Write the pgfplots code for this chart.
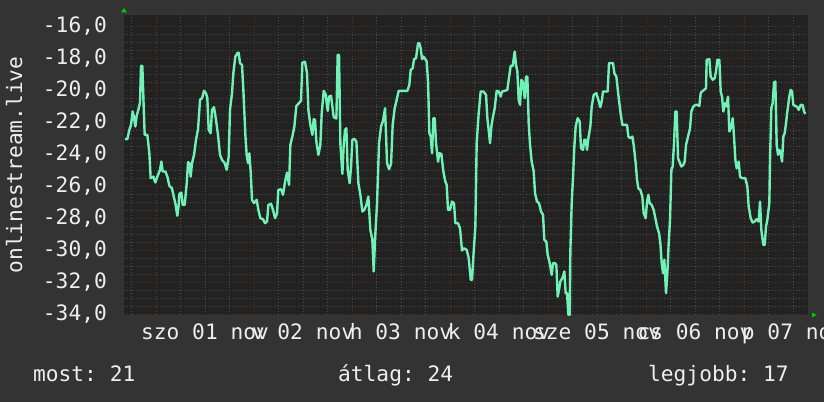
\documentclass[border=0pt]{standalone}
\usepackage{fontspec}
\setmainfont{DejaVu Sans Mono}
\usepackage{pgfplots}
\pgfplotsset{compat=1.18}
\definecolor{outerbg}{RGB}{51,51,51}
\definecolor{plotbg}{RGB}{34,34,34}
\definecolor{gridminor}{RGB}{78,78,78}
\definecolor{gridmajor}{RGB}{105,44,44}
\definecolor{linecol}{RGB}{112,242,180}
\definecolor{txt}{RGB}{238,238,238}
\definecolor{arrowgreen}{RGB}{0,200,0}
\frenchspacing
\begin{document}
\begin{tikzpicture}
\fill[outerbg] (-124pt,-87pt) rectangle (700pt,315pt);
\begin{axis}[
  scale only axis, width=684pt, height=300pt,
  at={(0pt,0pt)}, anchor=south west,
  xmin=-7.84, xmax=159.67, ymin=-34.05, ymax=-15.3,
  axis background/.style={fill=plotbg},
  axis line style={draw=none},
  major tick length=0pt, minor tick length=0pt,
  font=\fontsize{21.2}{24}\selectfont,
  tick label style={text=txt},
  xtick={12,36,60,84,108,132,156},
  xticklabels={szo 01 nov, v 02 nov, h 03 nov, k 04 nov, sze 05 nov, cs 06 nov, p 07 nov},
  xticklabel style={anchor=base, inner sep=0pt, yshift=-24pt},
  minor xtick={-6,6,18,30,42,54,66,78,90,102,114,126,138,150},
  extra x ticks={0,24,48,72,96,120,144},
  extra x tick labels={},
  extra x tick style={grid=major, major grid style={gridmajor, dash pattern=on 1pt off 2pt, line width=0.9pt}},
  ytick={-34,-32,...,-16},
  minor y tick num=3,
  yticklabel style={anchor=east, inner sep=0pt, xshift=-17pt,
    /pgf/number format/.cd, fixed, fixed zerofill, precision=1, use comma, assume math mode=true, /tikz/.cd},
  extra y ticks={-34,-32,...,-16},
  extra y tick labels={},
  extra y tick style={grid=major, major grid style={gridmajor, dash pattern=on 1pt off 2pt, line width=0.9pt}},
  grid=both,
  major grid style={gridminor, dash pattern=on 1pt off 2pt, line width=0.9pt},
  minor grid style={gridminor, dash pattern=on 1pt off 2pt, line width=0.9pt},
  ylabel={onlinestream.live},
  ylabel style={at={(axis description cs:-0.149,0.5)}, anchor=base, text=txt},
]
\addplot[linecol, line width=2.4pt, line join=round] coordinates {
(-7.59,-23.06) (-7.02,-23.06) (-6.53,-22.48) (-6.12,-22.17) (-5.71,-21.33) (-5.39,-21.69)
(-5.06,-22.27) (-4.73,-21.60) (-4.33,-21.23) (-3.92,-20.77) (-3.67,-18.48) (-3.35,-18.48)
(-3.10,-20.40) (-2.78,-22.79) (-2.12,-22.79) (-1.63,-23.94) (-1.31,-25.50) (-0.65,-25.40)
(-0.16,-25.77) (0.33,-25.40) (0.98,-24.98) (1.31,-24.46) (1.63,-25.08) (2.29,-25.08)
(2.78,-25.40) (3.27,-25.98) (3.92,-26.13) (4.24,-26.54) (4.73,-27.06) (5.22,-27.85)
(5.55,-27.17) (5.71,-26.48) (6.20,-26.40) (6.53,-27.17) (7.02,-27.17) (7.51,-25.85)
(7.84,-24.50) (8.16,-24.56) (8.49,-25.40) (8.82,-24.56) (9.31,-24.04) (9.80,-23.10)
(10.29,-22.44) (10.78,-20.60) (11.27,-20.50) (11.76,-20.04) (12.24,-20.19) (12.57,-20.50)
(12.90,-22.48) (13.39,-22.69) (13.71,-21.23) (14.20,-21.06) (14.69,-21.85) (15.18,-22.79)
(15.67,-24.04) (16.16,-24.35) (16.82,-24.56) (17.31,-24.98) (17.80,-24.15) (18.12,-21.23)
(18.61,-20.19) (18.94,-18.94) (19.43,-17.90) (19.92,-17.69) (20.24,-17.65) (20.57,-18.31)
(21.06,-18.42) (21.39,-19.98) (21.88,-22.79) (22.20,-24.04) (22.53,-24.56) (22.86,-23.94)
(23.18,-25.08) (23.51,-26.85) (24.00,-27.06)
(24.66,-26.85) (25.07,-27.48) (25.56,-28.00) (26.21,-28.06) (26.70,-28.31) (27.19,-28.21)
(27.52,-27.17) (28.17,-27.10) (28.66,-27.48) (29.15,-28.00) (29.64,-27.69) (29.96,-26.23)
(30.62,-26.19) (31.11,-26.54) (31.60,-25.71) (32.09,-25.15) (32.58,-25.92) (32.90,-23.42)
(33.39,-22.90) (33.88,-22.27) (34.37,-20.98) (35.02,-20.81) (35.52,-20.65) (35.84,-18.27)
(36.49,-18.23) (36.98,-18.94) (37.31,-21.23) (37.80,-22.17) (38.29,-22.79) (38.62,-21.81)
(38.94,-21.85) (39.27,-23.21) (39.76,-24.04) (40.25,-23.42) (40.58,-21.44) (41.07,-20.04)
(41.56,-20.29) (42.05,-21.29) (42.37,-20.40) (42.86,-20.35) (43.52,-21.69) (44.17,-21.77)
(44.49,-17.79) (44.82,-17.79) (45.15,-23.35) (45.64,-25.23) (45.96,-23.42) (46.29,-22.48)
(46.62,-22.38) (46.94,-24.98) (47.43,-25.81) (47.76,-24.77) (48.09,-23.10) (48.58,-23.04)
(49.07,-23.21) (49.56,-25.81) (50.05,-26.54) (50.54,-27.58) (51.03,-27.48) (51.52,-27.17)
(52.00,-26.65) (52.49,-28.73) (52.98,-29.35) (53.31,-31.33) (53.64,-29.35) (54.13,-27.06)
(54.62,-23.31) (55.11,-22.27) (55.60,-21.90) (56.09,-21.13) (56.58,-24.56) (57.07,-24.94)
(57.56,-24.60)
(57.96,-22.17) (58.45,-21.13) (58.94,-20.60) (59.43,-20.04) (60.09,-20.04) (60.90,-20.04)
(61.55,-20.04) (62.04,-19.67) (62.37,-18.73) (62.86,-18.63) (63.19,-18.06) (63.68,-18.00)
(64.17,-17.06) (64.49,-17.06) (64.82,-17.38) (65.15,-18.06) (65.47,-17.90) (65.96,-18.06)
(66.29,-18.21) (66.62,-19.46) (66.94,-22.69) (67.27,-22.90) (67.60,-23.94) (67.92,-21.75)
(68.25,-21.75) (68.58,-23.31) (69.07,-24.46) (69.39,-23.94) (69.88,-23.98) (70.37,-25.08)
(70.86,-25.71) (71.19,-25.92) (71.51,-27.48) (72.00,-27.48) (72.49,-26.96) (72.98,-27.06)
(73.31,-28.31) (73.96,-28.31) (74.45,-28.63) (74.94,-30.02) (75.43,-29.88) (76.09,-29.98)
(76.58,-30.50) (77.07,-31.85) (77.39,-31.85) (77.72,-30.40) (78.21,-28.52) (78.53,-23.31)
(79.02,-21.44) (79.51,-20.08) (80.17,-20.08) (80.82,-20.29) (81.15,-21.75) (81.47,-22.48)
(81.80,-23.31) (82.13,-22.27) (82.45,-21.75) (82.94,-21.13) (83.43,-20.04) (83.92,-20.08)
(84.41,-20.40) (84.74,-20.08) (85.39,-20.04) (86.04,-19.98) (86.37,-19.35) (86.86,-18.48)
(87.35,-18.48) (87.84,-17.58) (88.17,-18.42) (88.49,-18.83) (88.82,-20.60) (89.15,-20.92)
(89.47,-19.35) (89.80,-19.46) (90.29,-20.50) (90.62,-19.15) (90.94,-19.15) (91.27,-22.06)
(91.60,-23.42)
(92.00,-24.46) (92.49,-25.08) (92.82,-26.44) (93.31,-26.96) (93.80,-27.06) (94.29,-27.58)
(94.78,-27.79) (95.10,-29.35) (95.59,-29.46) (95.92,-30.29) (96.41,-30.81) (96.90,-31.54)
(97.23,-30.81) (97.72,-30.81) (98.04,-30.92) (98.37,-32.90) (98.70,-32.48) (99.02,-31.96)
(99.35,-31.81) (99.68,-31.65) (100.00,-31.33) (100.33,-32.69) (100.66,-32.69) (100.98,-34.04)
(101.31,-34.04) (101.47,-30.08) (101.80,-27.06) (102.13,-25.40) (102.45,-23.52) (102.78,-22.27)
(103.27,-21.75) (103.76,-21.96) (104.08,-23.63) (104.57,-23.73) (104.90,-23.10) (105.23,-23.10)
(105.55,-23.73) (105.88,-23.00) (106.37,-22.27) (106.70,-21.02) (107.19,-20.29) (107.84,-20.19)
(108.33,-20.60) (108.82,-21.06) (109.15,-20.71) (109.47,-20.08) (110.13,-20.08) (110.61,-20.08)
(110.94,-18.31) (111.43,-18.31) (111.92,-18.31) (112.25,-18.94) (112.74,-19.15) (113.23,-20.29)
(113.72,-21.33) (114.21,-22.17) (114.86,-22.17) (115.35,-22.17) (115.68,-22.90) (116.17,-23.00)
(116.66,-22.90) (116.98,-23.42) (117.47,-24.56) (117.80,-25.60) (118.12,-26.13) (118.61,-26.23)
(119.10,-26.65) (119.43,-27.69) (119.92,-28.00) (120.25,-26.96) (120.57,-26.54) (120.90,-27.06)
(121.39,-27.17) (121.88,-27.48) (122.21,-27.90) (122.70,-28.52) (123.19,-28.94) (123.51,-29.56)
(123.84,-30.81) (124.17,-31.44) (124.49,-30.60)
(124.90,-32.69) (125.23,-31.44) (125.55,-29.56) (125.88,-28.10) (126.21,-24.98) (126.53,-24.77)
(126.86,-23.31) (127.19,-21.33) (127.51,-21.33) (127.84,-24.25) (128.16,-24.46) (128.65,-24.77)
(129.14,-24.67) (129.47,-24.46) (129.80,-23.42) (130.29,-22.90) (130.78,-22.38) (131.10,-21.33)
(131.59,-21.02) (132.08,-20.92) (132.57,-20.92) (133.06,-20.98) (133.39,-20.19) (133.71,-20.08)
(134.21,-19.98) (134.69,-19.88) (134.86,-18.10) (135.51,-18.06) (135.84,-19.15) (136.33,-19.35)
(136.82,-19.25) (137.14,-18.83) (137.47,-18.10) (137.96,-18.10) (138.29,-20.08) (138.61,-20.40)
(138.94,-21.33) (139.27,-20.81) (139.59,-21.02) (140.08,-20.40) (140.41,-22.58) (140.90,-22.27)
(141.23,-21.75) (141.55,-22.90) (141.88,-24.35) (142.21,-24.88) (142.70,-24.46) (143.02,-25.40)
(143.51,-25.50) (144.33,-25.50) (144.82,-26.02) (145.14,-27.27) (145.63,-28.00) (146.12,-28.27)
(146.61,-28.21) (147.10,-28.06) (147.59,-28.21) (147.92,-26.96) (148.24,-28.73) (148.73,-29.67)
(149.06,-29.67) (149.39,-28.52) (149.71,-28.10) (150.20,-27.06) (150.37,-24.35) (150.69,-21.13)
(151.02,-20.81) (151.35,-19.52) (151.67,-19.46) (152.00,-23.42) (152.33,-24.04) (152.66,-23.73)
(152.98,-23.94) (153.31,-24.46) (153.63,-22.90) (153.96,-22.69) (154.29,-22.06) (154.61,-21.33)
(155.10,-20.40) (155.43,-19.98) (155.76,-20.08) (156.08,-20.92) (156.57,-20.98) (157.06,-21.06)
(157.39,-21.23) (157.88,-20.92) (158.37,-20.92) (158.69,-21.33) (159.02,-21.48)
};
\end{axis}
\fill[arrowgreen] (-3pt,302.5pt) -- (3pt,302.5pt) -- (0pt,307pt) -- cycle;
\fill[arrowgreen] (688pt,-2.5pt) -- (688pt,2.5pt) -- (692.5pt,0pt) -- cycle;
\begin{scope}[every node/.style={font=\fontsize{21.2}{24}\selectfont, text=txt, inner sep=0pt, anchor=base west}]
\node at (-91pt,-66pt) {most: 21};
\node at (214pt,-66pt) {átlag: 24};
\node at (524pt,-66pt) {legjobb: 17};
\end{scope}
\pgfresetboundingbox
\path (-124pt,-87pt) rectangle (700pt,315pt);
\end{tikzpicture}
\end{document}
